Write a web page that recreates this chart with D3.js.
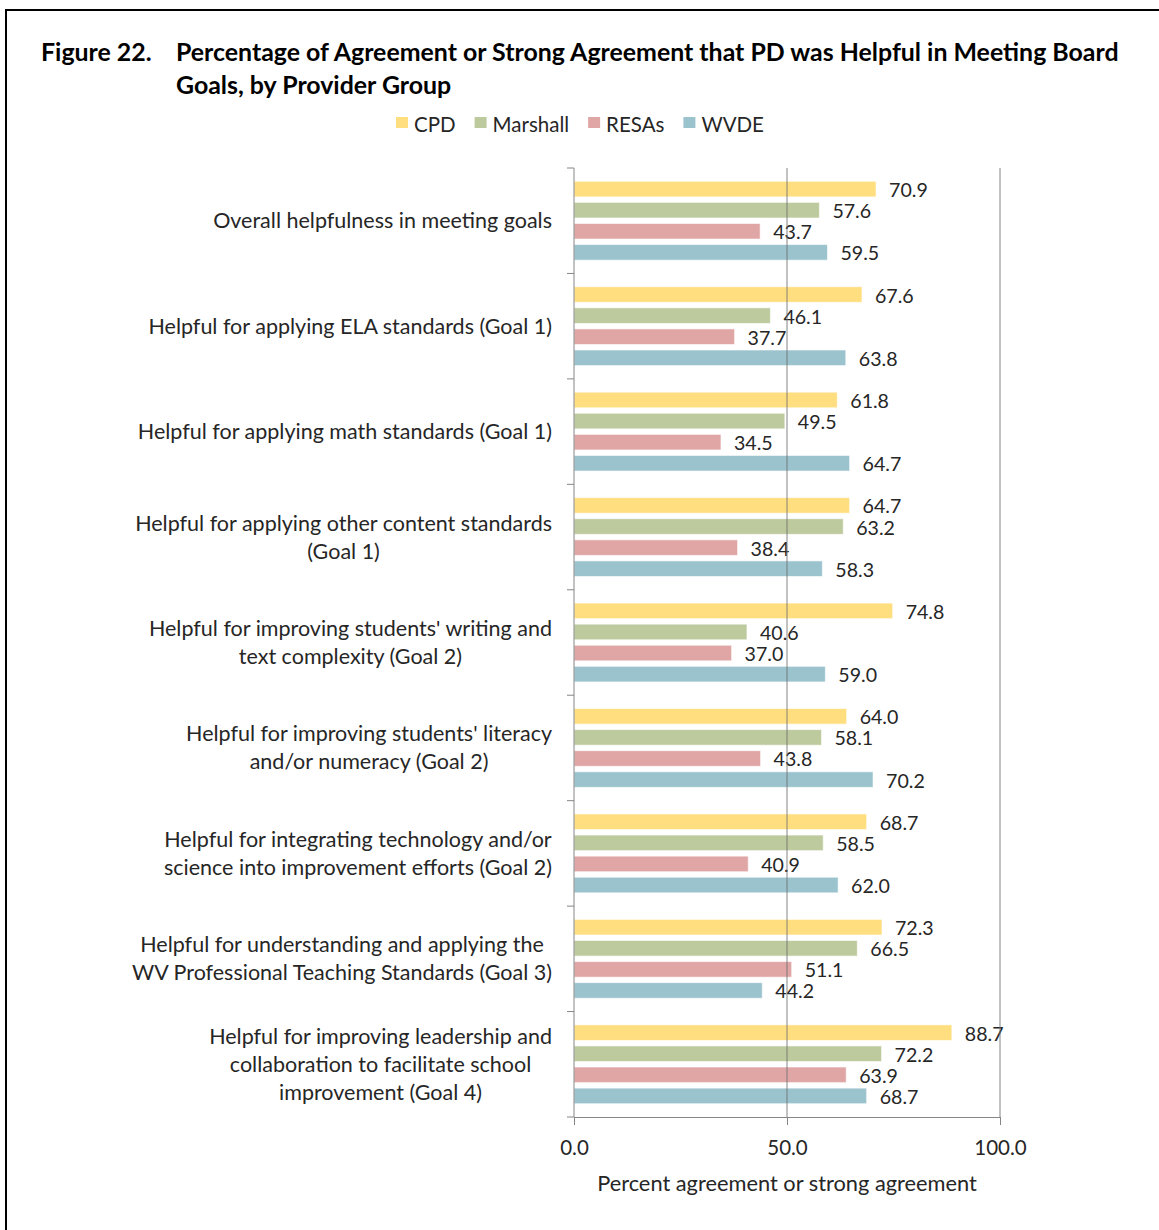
<!DOCTYPE html>
<html>
<head>
<meta charset="utf-8">
<script src="https://cdn.jsdelivr.net/npm/d3@7"></script>
<style>
  html, body { margin: 0; padding: 0; background: #fff; }
  svg { display: block; }
  text { font-family: "Lato", "Open Sans", sans-serif; }
</style>
</head>
<body>
<svg id="chart" width="1159" height="1230"></svg>
<script>
const categories = [
  ["Overall helpfulness in meeting goals"],
  ["Helpful for applying ELA standards (Goal 1)"],
  ["Helpful for applying math standards (Goal 1)"],
  ["Helpful for applying other content standards", "(Goal 1)"],
  ["Helpful for improving students' writing and", "text complexity (Goal 2)"],
  ["Helpful for improving students' literacy", "and/or numeracy (Goal 2)"],
  ["Helpful for integrating technology and/or", "science into improvement efforts (Goal 2)"],
  ["Helpful for understanding and applying the", "WV Professional Teaching Standards (Goal 3)"],
  ["Helpful for improving leadership and", "collaboration to facilitate school", "improvement (Goal 4)"]
];
const seriesNames = ["CPD", "Marshall", "RESAs", "WVDE"];
const cpd      = [70.9, 67.6, 61.8, 64.7, 74.8, 64.0, 68.7, 72.3, 88.7];
const marshall = [57.6, 46.1, 49.5, 63.2, 40.6, 58.1, 58.5, 66.5, 72.2];
const resas    = [43.7, 37.7, 34.5, 38.4, 37.0, 43.8, 40.9, 51.1, 63.9];
const wvde     = [59.5, 63.8, 64.7, 58.3, 59.0, 70.2, 62.0, 44.2, 68.7];
const seriesColors = ["#FFDE80", "#BDCA9D", "#E0A6A6", "#9BC3CE"];
const xTicks = [0, 50, 100];
const titleLines = ["Percentage of Agreement or Strong Agreement that PD was Helpful in Meeting Board", "Goals, by Provider Group"];
const figureLabel = "Figure 22.";
const xAxisTitle = "Percent agreement or strong agreement";

const seriesValues = [cpd, marshall, resas, wvde];
const svg = d3.select("#chart");

// frame
svg.append("path")
  .attr("d", "M6,1240 L6,10 L1170,10")
  .attr("fill", "none").attr("stroke", "#000").attr("stroke-width", 2);

// title
const titleG = svg.append("g").attr("font-weight", "bold").attr("fill", "#000").attr("font-size", 24.9);
titleG.append("text").attr("x", 41).attr("y", 61).text(figureLabel);
titleLines.forEach((t, i) => {
  titleG.append("text").attr("x", 176).attr("y", 61 + i * 33).text(t);
});

// scales
const plotLeft = 574, plotRight = 1000, plotTop = 168, plotBottom = 1117;
const x = d3.scaleLinear().domain([0, 100]).range([plotLeft, plotRight]);
const y0 = d3.scaleBand().domain(d3.range(categories.length)).range([plotTop, plotBottom]).padding(0);
const y1 = d3.scaleBand().domain(seriesNames).range([0, y0.bandwidth()]).paddingInner(0.26).paddingOuter(0.63);

// legend
const legend = svg.append("g").attr("font-size", 20.5).attr("fill", "#262626");
let lx = 396;
seriesNames.forEach((s, i) => {
  legend.append("rect").attr("x", lx).attr("y", 117).attr("width", 12).attr("height", 11).attr("fill", seriesColors[i]);
  const t = legend.append("text").attr("x", lx + 18).attr("y", 132).text(s);
  lx += 18 + t.node().getComputedTextLength() + 19;
});

// bars
const groups = svg.append("g").selectAll("g").data(categories).join("g")
  .attr("transform", (d, i) => `translate(0,${y0(i)})`);
seriesNames.forEach((s, si) => {
  groups.append("rect")
    .attr("x", x(0))
    .attr("y", y1(s))
    .attr("width", (d, i) => x(seriesValues[si][i]) - x(0))
    .attr("height", y1.bandwidth())
    .attr("fill", seriesColors[si])
    .attr("stroke", "#fff").attr("stroke-opacity", 0.6).attr("stroke-width", 1);
});

// gridlines (drawn over bars)
svg.append("g").selectAll("line").data(xTicks.filter(v => v > 0)).join("line")
  .attr("x1", d => x(d)).attr("x2", d => x(d))
  .attr("y1", plotTop).attr("y2", plotBottom)
  .attr("stroke", "#6f6f6f").attr("stroke-opacity", 0.85).attr("stroke-width", 1);

// value labels
seriesNames.forEach((s, si) => {
  groups.append("text")
    .attr("x", (d, i) => x(seriesValues[si][i]) + 13)
    .attr("y", y1(s) + y1.bandwidth() / 2 + 8)
    .attr("font-size", 19.6)
    .attr("fill", "#262626")
    .text((d, i) => d3.format(".1f")(seriesValues[si][i]));
});

// left axis line and ticks at band boundaries
const leftAxis = svg.append("g");
leftAxis.append("line").attr("x1", plotLeft).attr("x2", plotLeft).attr("y1", plotTop).attr("y2", plotBottom)
  .attr("stroke", "#868686");
const boundaries = d3.range(categories.length + 1).map(i => i < categories.length ? y0(i) : plotBottom);
leftAxis.selectAll("line.tick").data(boundaries).join("line").attr("class", "tick")
  .attr("x1", plotLeft - 7).attr("x2", plotLeft).attr("y1", d => d).attr("y2", d => d)
  .attr("stroke", "#868686");

// category labels
const labelRight = 552;
categories.forEach((lines, i) => {
  const g = svg.append("g").attr("font-size", 21.5).attr("fill", "#262626");
  const texts = lines.map(l => g.append("text").attr("text-anchor", "middle").text(l));
  const maxW = d3.max(texts, t => t.node().getComputedTextLength());
  const cx = labelRight - maxW / 2;
  const cy = y0(i) + y0.bandwidth() / 2;
  const lh = 28;
  texts.forEach((t, j) => {
    t.attr("x", cx).attr("y", cy + (j - (lines.length - 1) / 2) * lh + 7.5);
  });
});

// bottom axis
const xAxis = d3.axisBottom(x).tickValues(xTicks).tickSize(8).tickFormat(d3.format(".1f"));
const ax = svg.append("g").attr("transform", `translate(0,${plotBottom})`).call(xAxis);
ax.select(".domain").attr("stroke", "#868686");
ax.selectAll(".tick line").attr("stroke", "#868686");
ax.selectAll(".tick text").attr("font-size", 20.5).attr("fill", "#262626")
  .attr("font-family", "Lato, 'Open Sans', sans-serif").attr("y", 23).attr("dy", "0.71em");

// axis title
svg.append("text").attr("x", (plotLeft + plotRight) / 2).attr("y", 1191)
  .attr("text-anchor", "middle").attr("font-size", 21.8).attr("fill", "#262626")
  .text(xAxisTitle);
</script>
</body>
</html>
